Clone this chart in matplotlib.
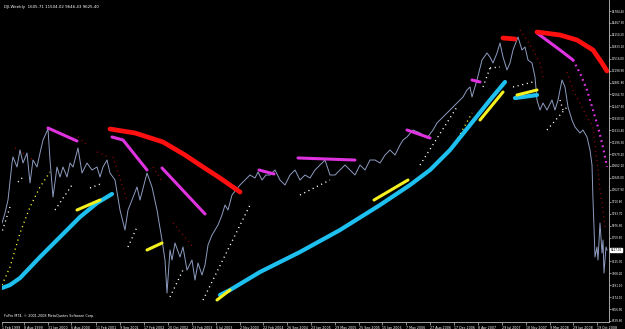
import matplotlib
matplotlib.use("Agg")
import matplotlib.pyplot as plt

# DJI weekly close, bar position vs price
dji_x = [2, 5, 8, 12, 13, 17, 20, 23, 27, 30, 33, 37, 40, 43, 48, 50, 53, 57, 60, 63,
         67, 70, 73, 78, 82, 87, 92, 97, 100, 103, 107, 110, 115, 120, 125, 128, 132, 137, 140, 147,
         152, 157, 162, 165, 167, 170, 172, 175, 180, 183, 187, 192, 195, 198, 202, 205, 208, 212, 218, 222,
         225, 228, 232, 236, 240, 245, 250, 255, 258, 262, 266, 270, 275, 280, 285, 290, 295, 300, 305, 310,
         315, 320, 325, 330, 335, 340, 345, 350, 355, 360, 365, 370, 375, 380, 385, 390, 395, 400, 403, 407,
         413, 420, 427, 433, 437, 443, 450, 457, 463, 467, 470, 472, 477, 482, 487, 490, 493, 497, 500, 503,
         507, 510, 513, 518, 522, 525, 528, 532, 535, 537, 540, 543, 547, 552, 555, 558, 562, 565, 568, 572,
         575, 580, 583, 587, 590, 592, 593, 594, 595, 597, 598, 600, 602, 603, 604, 606, 607]
dji_close = [9145, 9411, 9757, 10741, 10901, 10635, 11087, 10741, 11007, 10209, 10821, 10635, 11007, 11353, 11646, 10821, 9837, 10635, 10369, 10635,
             10369, 10741, 10635, 11140, 10475, 10741, 10555, 10635, 10369, 10635, 10821, 10475, 10289, 9491, 8959, 9491, 9757, 10103, 9757, 10475,
             10103, 9491, 8693, 8161, 7283, 8427, 8161, 8613, 8241, 8507, 7895, 8161, 7629, 8081, 7762, 8028, 8560, 8826, 9092, 9358,
             9624, 9491, 9890, 10023, 10156, 10289, 10422, 10342, 10502, 10289, 10422, 10422, 10555, 10289, 10156, 10422, 10555, 10289, 10422, 10342,
             10555, 10688, 10821, 10422, 10422, 10555, 10688, 10555, 10422, 10688, 10555, 10821, 10821, 10741, 10954, 11087, 10954, 11220, 11353, 11433,
             11619, 11539, 11406, 11619, 11805, 11965, 12151, 12337, 12497, 12683, 12763, 12497, 12949, 13481, 13667, 13561, 13401, 13667, 13933, 13561,
             13215, 13401, 13747, 14093, 13747, 13827, 13481, 13401, 13029, 12417, 12151, 12337, 12151, 12417, 12151, 12417, 12949, 12763, 12231, 11885,
             11699, 11539, 11619, 11433, 11087, 10688, 9757, 9039, 8241, 8507, 8161, 9145, 8347, 8693, 7815, 8507, 8427]

# thick indicator segments: (bars, prices)
red_segs = [([110, 135, 163, 185, 200, 220, 240], [11646, 11539, 11300, 10954, 10688, 10342, 9970]),
            ([503, 515], [14066, 14040]),
            ([537, 560, 577, 593, 602, 607], [14226, 14146, 14013, 13747, 13401, 13188])]
magenta_segs = [([48, 77], [11672, 11326]),
                ([112, 123, 147], [11433, 11353, 10555]),
                ([162, 205], [10608, 9385]),
                ([259, 274], [10555, 10449]),
                ([298, 355], [10875, 10820]),
                ([407, 430], [11619, 11406]),
                ([472, 480], [12949, 12896]),
                ([537, 560, 573], [14199, 13747, 13481])]
cyan_segs = [([2, 10, 20, 40, 60, 80, 97, 112], [7416, 7496, 7682, 8241, 8773, 9305, 9677, 9917]),
             ([220, 230, 260, 300, 340, 380, 410, 430, 450, 470, 490, 505],
              [7230, 7363, 7842, 8374, 8959, 9624, 10156, 10555, 11087, 11752, 12417, 12896]),
             ([515, 537], [12470, 12550])]
yellow_segs = [([77, 100], [9491, 9757]),
               ([147, 162], [8427, 8613]),
               ([217, 230], [7097, 7363]),
               ([374, 408], [9757, 10289]),
               ([480, 503], [11885, 12630]),
               ([517, 537], [12550, 12683])]

# dotted indicator runs
magenta_dots = [([573, 580, 587, 593, 598, 603, 607], [13481, 13135, 12683, 12151, 11699, 11167, 10635])]
yellow_dots = [([2, 10, 20, 30, 40, 50], [7496, 7975, 8879, 9571, 10103, 10502]),
               ([458, 472], [11406, 12071])]
white_dots = [([1, 10], [8826, 9571]),
              ([18, 23], [10236, 10369]),
              ([55, 72], [9491, 10156]),
              ([90, 103], [10076, 10209]),
              ([128, 137], [8507, 9039]),
              ([170, 183], [7177, 7895]),
              ([203, 250], [7097, 9624]),
              ([300, 330], [9890, 10289]),
              ([420, 457], [10688, 12231]),
              ([483, 490], [12763, 13268]),
              ([490, 500], [13268, 13295]),
              ([513, 533], [12763, 12896]),
              ([547, 567], [11619, 12231]),
              ([560, 563], [12417, 12151])]
darkred_dots = [([15, 33], [11140, 10821]),
                ([78, 87], [11433, 11220]),
                ([97, 110], [11034, 10874]),
                ([113, 127], [10901, 9757]),
                ([153, 163], [10635, 10209]),
                ([173, 193], [9145, 8507]),
                ([520, 527, 533, 540, 543], [14279, 14013, 13747, 13401, 13029]),
                ([567, 573, 580, 587, 593, 598, 600, 603, 605],
                 [13162, 12683, 12337, 11965, 11699, 10555, 10023, 9491, 9039])]

# axis labels
date_pos = [2, 24, 48, 71, 96, 120, 144, 168, 192, 216, 240, 263, 287, 311, 335, 359, 382,
            406, 430, 454, 478, 502, 526, 550, 573, 597]
date_labels = ["1 Feb 1999", "8 Aug 1999", "31 Jan 2000", "6 Aug 2000", "11 Feb 2001", "9 Sep 2001",
               "17 Feb 2002", "20 Oct 2002", "23 Feb 2003", "6 Jul 2003", "2 Nov 2003", "22 Feb 2004",
               "26 Sep 2004", "23 Jan 2005", "29 May 2005", "25 Sep 2005", "15 Jan 2006", "7 May 2006",
               "27 Aug 2006", "17 Dec 2006", "8 Apr 2007", "29 Jul 2007", "18 Nov 2007", "9 Mar 2008",
               "29 Jun 2008", "19 Oct 2008"]
price_top = 14784.4
price_step = 317.1
n_price_ticks = 27
last_price = 8427.0

fig = plt.figure(figsize=(6.25, 3.29), dpi=100, facecolor="black")
ax = fig.add_axes([2 / 625, 7 / 329, 607 / 625, 322 / 329], facecolor="black")
ax.set_xlim(2, 609)
ax.set_ylim(6512, 15077)

for xs, ys in white_dots:
    ax.plot(xs, ys, color="white", lw=1.0, ls=(0, (0.8, 2.6)), zorder=2)
for xs, ys in darkred_dots:
    ax.plot(xs, ys, color="#8b0a0a", lw=1.0, ls=(0, (0.8, 2.6)), zorder=2)
for xs, ys in yellow_dots:
    ax.plot(xs, ys, color="#ffff33", lw=1.0, ls=(0, (0.8, 2.6)), zorder=2)
for xs, ys in magenta_dots:
    ax.plot(xs, ys, color="#e033e0", lw=1.6, ls=(0, (0.8, 1.6)), zorder=2)

ax.plot(dji_x, dji_close, color="#8e9cc0", lw=0.7, zorder=3)

for xs, ys in cyan_segs:
    ax.plot(xs, ys, color="#1ec0f0", lw=3.0, solid_capstyle="round", zorder=4)
for xs, ys in yellow_segs:
    ax.plot(xs, ys, color="#f5f020", lw=2.2, solid_capstyle="round", zorder=4)
for xs, ys in magenta_segs:
    ax.plot(xs, ys, color="#e033e0", lw=2.2, solid_capstyle="round", zorder=4)
for xs, ys in red_segs:
    ax.plot(xs, ys, color="#ff1010", lw=3.4, solid_capstyle="round", zorder=4)

# MT4 style frame
for side in ["top", "left"]:
    ax.spines[side].set_visible(False)
ax.spines["right"].set_color("#c0c0c0")
ax.spines["bottom"].set_color("#c0c0c0")
ax.spines["right"].set_linewidth(0.6)
ax.spines["bottom"].set_linewidth(0.6)

ticks = [price_top - k * price_step for k in range(n_price_ticks)]
# the boxed last-price label takes the place of the tick label next to it
tick_labels = ["" if abs(t - last_price) < price_step / 2 else "%.2f" % t for t in ticks]
ax.yaxis.tick_right()
ax.set_yticks(ticks)
ax.set_yticklabels(tick_labels)
ax.tick_params(axis="y", colors="#c0c0c0", labelcolor="white", labelsize=1.95, length=1.6, width=0.5, pad=0.4)

ax.set_xticks(date_pos)
ax.set_xticklabels(date_labels, ha="left")
ax.tick_params(axis="x", colors="#c0c0c0", labelcolor="white", labelsize=2.3, length=2, width=0.5, pad=0.6)

ax.text(610.5, last_price, "%.2f" % last_price, fontsize=1.95, color="black", va="center", ha="left",
        bbox=dict(boxstyle="square,pad=0.15", fc="white", ec="white"), clip_on=False,
        transform=ax.transData)

ax.text(0.004, 0.985, "DJI,Weekly  1605.71 11504.02 9646.43 9625.40", transform=ax.transAxes,
        fontsize=2.9, color="white", va="top", ha="left")
ax.text(0.004, 0.012, "FxPro MT4, \u00a9 2001-2008 MetaQuotes Software Corp.", transform=ax.transAxes,
        fontsize=2.4, color="white", va="bottom", ha="left")

fig.savefig("out.png", dpi=100, facecolor="black")
